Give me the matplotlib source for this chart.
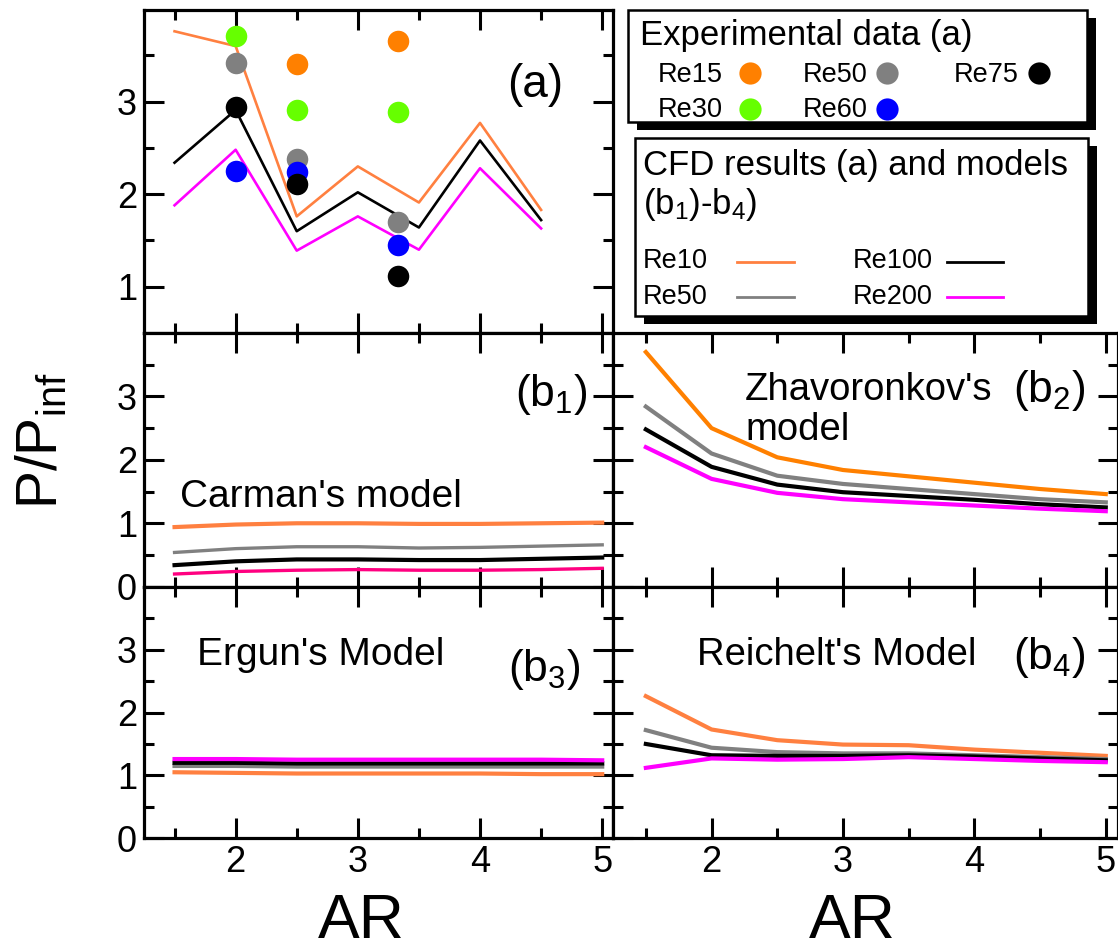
import numpy as np
import matplotlib
matplotlib.use('Agg')
import matplotlib.pyplot as plt
from matplotlib.patches import Rectangle
from matplotlib.lines import Line2D

plt.rcParams['font.family'] = ['Liberation Sans', 'DejaVu Sans']
plt.rcParams['mathtext.fontset'] = 'custom'
plt.rcParams['mathtext.rm'] = 'Liberation Sans'
plt.rcParams['mathtext.it'] = 'Liberation Sans:italic'
plt.rcParams['mathtext.bf'] = 'Liberation Sans:bold'

# ---------------- data ----------------
ar_cfd = [1.5, 2.0, 2.5, 3.0, 3.5, 4.0, 4.5]
cfd_re10 = [3.76, 3.60, 1.76, 2.30, 1.91, 2.77, 1.83]
cfd_re100 = [2.34, 2.91, 1.60, 2.02, 1.64, 2.58, 1.72]
cfd_re200 = [1.88, 2.48, 1.39, 1.76, 1.40, 2.28, 1.63]

ar_exp = [2.0, 2.5, 3.33]
exp_re15 = [np.nan, 3.41, 3.66]
exp_re30 = [3.71, 2.91, 2.89]
exp_re50 = [3.42, 2.38, 1.70]
exp_re60 = [2.25, 2.24, 1.45]
exp_re75 = [2.94, 2.11, 1.12]

ar_model = [1.5, 2.0, 2.5, 3.0, 3.5, 4.0, 4.5, 5.0]
carman_re10 = [0.94, 0.98, 1.00, 1.00, 0.99, 0.99, 1.00, 1.01]
carman_re50 = [0.54, 0.60, 0.63, 0.63, 0.61, 0.62, 0.64, 0.66]
carman_re100 = [0.34, 0.40, 0.43, 0.43, 0.42, 0.42, 0.44, 0.46]
carman_re200 = [0.20, 0.24, 0.26, 0.27, 0.26, 0.26, 0.27, 0.29]

zhav_re10 = [3.70, 2.50, 2.04, 1.84, 1.74, 1.64, 1.54, 1.46]
zhav_re50 = [2.84, 2.10, 1.75, 1.62, 1.54, 1.46, 1.38, 1.33]
zhav_re100 = [2.48, 1.89, 1.61, 1.49, 1.43, 1.37, 1.30, 1.25]
zhav_re200 = [2.20, 1.70, 1.48, 1.38, 1.33, 1.28, 1.23, 1.19]

ergun_re10 = [1.05, 1.04, 1.03, 1.03, 1.03, 1.03, 1.02, 1.02]
ergun_re50 = [1.15, 1.15, 1.14, 1.14, 1.14, 1.14, 1.14, 1.14]
ergun_re100 = [1.20, 1.20, 1.19, 1.19, 1.19, 1.19, 1.19, 1.19]
ergun_re200 = [1.26, 1.26, 1.25, 1.25, 1.25, 1.25, 1.25, 1.24]

reich_re10 = [2.26, 1.73, 1.56, 1.49, 1.48, 1.41, 1.36, 1.31]
reich_re50 = [1.72, 1.44, 1.37, 1.35, 1.35, 1.32, 1.29, 1.26]
reich_re100 = [1.50, 1.32, 1.31, 1.31, 1.32, 1.30, 1.27, 1.24]
reich_re200 = [1.12, 1.27, 1.25, 1.26, 1.29, 1.26, 1.23, 1.21]

exp_labels = ['Re15', 'Re30', 'Re50', 'Re60', 'Re75']
cfd_labels = ['Re10', 'Re50', 'Re100', 'Re200']
x_ticks = [2, 3, 4, 5]
x_minor = [1.5, 2.5, 3.5, 4.5]

# ---------------- styles ----------------
C_OR = '#FF8040'
C_OR2 = '#FF8000'
C_MAG = '#FF00FF'
C_PINK = '#FF0080'
C_GRAY = '#808080'
C_GREEN = '#66FF00'
C_BLUE = '#0000FF'
exp_colors = [C_OR2, C_GREEN, C_GRAY, C_BLUE, 'black']

W, H = 1118, 951
fig = plt.figure(figsize=(W / 100, H / 100), dpi=100)


def px_axes(x0, y0, x1, y1):
    return fig.add_axes([x0 / W, 1 - y1 / H, (x1 - x0) / W, (y1 - y0) / H])


def style(ax, ylim, yt, ytm, left_labels, bottom_labels):
    ax.set_xlim(1.25, 5.09)
    ax.set_ylim(*ylim)
    ax.set_xticks(x_ticks)
    ax.set_xticks(x_minor, minor=True)
    ax.set_yticks(yt)
    ax.set_yticks(ytm, minor=True)
    ax.tick_params(which='both', direction='in', top=True, right=True,
                   width=2.2, labelsize=26, color='black')
    ax.tick_params(which='major', length=14.4)
    ax.tick_params(which='minor', length=7.2)
    ax.tick_params(axis='x', pad=5)
    ax.tick_params(axis='y', pad=5)
    if not left_labels:
        ax.tick_params(labelleft=False)
    if not bottom_labels:
        ax.tick_params(labelbottom=False)
    for s in ax.spines.values():
        s.set_linewidth(2.3)


ax_a = px_axes(144, 10, 613.2, 333)
ax_b1 = px_axes(144, 333, 613.2, 586.7)
ax_b2 = px_axes(613, 333, 1117.6, 586.7)
ax_b3 = px_axes(144, 586.7, 613.2, 838.3)
ax_b4 = px_axes(613, 586.7, 1117.6, 838.3)

style(ax_a, (0.5, 3.99), [1, 2, 3], [1.5, 2.5, 3.5], True, False)
style(ax_b1, (0, 4), [0, 1, 2, 3], [0.5, 1.5, 2.5, 3.5], True, False)
style(ax_b2, (0, 4), [0, 1, 2, 3], [0.5, 1.5, 2.5, 3.5], False, False)
style(ax_b3, (0, 4), [0, 1, 2, 3], [0.5, 1.5, 2.5, 3.5], True, True)
style(ax_b4, (0, 4), [0, 1, 2, 3], [0.5, 1.5, 2.5, 3.5], False, True)

# panel (a)
lw_a = 1.9
ax_a.plot(ar_cfd, cfd_re10, color=C_OR, lw=lw_a)
ax_a.plot(ar_cfd, cfd_re100, color='black', lw=lw_a)
ax_a.plot(ar_cfd, cfd_re200, color=C_MAG, lw=lw_a)
for vals, col in zip([exp_re15, exp_re30, exp_re50, exp_re60, exp_re75], exp_colors):
    ax_a.plot(ar_exp, vals, 'o', color=col, ms=15.5, mec='none', zorder=5)

lw_b = 3.0
# panel b1
ax_b1.plot(ar_model, carman_re10, color=C_OR, lw=lw_b)
ax_b1.plot(ar_model, carman_re50, color=C_GRAY, lw=2.4)
ax_b1.plot(ar_model, carman_re100, color='black', lw=lw_b)
ax_b1.plot(ar_model, carman_re200, color=C_PINK, lw=2.4)
# panel b2
ax_b2.plot(ar_model, zhav_re10, color=C_OR2, lw=lw_b)
ax_b2.plot(ar_model, zhav_re50, color=C_GRAY, lw=lw_b)
ax_b2.plot(ar_model, zhav_re100, color='black', lw=lw_b)
ax_b2.plot(ar_model, zhav_re200, color=C_MAG, lw=lw_b)
# panel b3
ax_b3.plot(ar_model, ergun_re10, color=C_OR, lw=lw_b)
ax_b3.plot(ar_model, ergun_re50, color=C_GRAY, lw=lw_b)
ax_b3.plot(ar_model, ergun_re100, color='black', lw=lw_b)
ax_b3.plot(ar_model, ergun_re200, color=C_MAG, lw=lw_b)
# panel b4
ax_b4.plot(ar_model, reich_re10, color=C_OR, lw=lw_b)
ax_b4.plot(ar_model, reich_re50, color=C_GRAY, lw=lw_b)
ax_b4.plot(ar_model, reich_re100, color='black', lw=lw_b)
ax_b4.plot(ar_model, reich_re200, color=C_MAG, lw=lw_b)

# axis labels
ax_b1.set_ylabel(r'P/P$_{\mathrm{inf}}$', fontsize=41, va='baseline')
ax_b1.yaxis.set_label_coords((57 - 144) / 469.2, (586.7 - 441) / 253.7)
ax_b3.set_xlabel('AR', fontsize=45, va='baseline')
ax_b3.xaxis.set_label_coords((361 - 144) / 469.2, -(938 - 838.3) / 251.6)
ax_b4.set_xlabel('AR', fontsize=45, va='baseline')
ax_b4.xaxis.set_label_coords((852.7 - 613) / 504.6, -(938 - 838.3) / 251.6)

# ---------------- overlay in pixel units (texts and legend boxes) ----------------
ov = fig.add_axes([0, 0, 1, 1], zorder=10)
ov.set_xlim(0, W)
ov.set_ylim(H, 0)
ov.axis('off')


def ftxt(x, y, s, size, **kw):
    ov.text(x, y, s, fontsize=size, ha='left', va='baseline', **kw)


ftxt(507, 96.7, '(a)', 33)
ftxt(515, 405.7, r'(b$_{1}$)', 32)
ftxt(180, 506.7, "Carman's model", 28)
ftxt(745, 400, "Zhavoronkov's", 27.5)
ftxt(745, 440, "model", 27.5)
ftxt(1013, 402, r'(b$_{2}$)', 32)
ftxt(197, 665, "Ergun's Model", 28)
ftxt(508, 680.7, r'(b$_{3}$)', 32)
ftxt(697, 665, "Reichelt's Model", 27.5)
ftxt(1013, 669, r'(b$_{4}$)', 32)


def box(x0, y0, x1, y1, dx=9, dy=8):
    ov.add_patch(Rectangle((x0 + dx, y0 + dy), x1 - x0, y1 - y0,
                           facecolor='black', edgecolor='black', lw=0))
    ov.add_patch(Rectangle((x0, y0), x1 - x0, y1 - y0,
                           facecolor='white', edgecolor='black', lw=1.8))


box(628, 10, 1087.3, 121.7)
box(635, 138.3, 1088, 316.3)

ftxt(640, 45, 'Experimental data (a)', 25)
exp_text_pos = [(658, 81.7), (658, 117.3), (802.7, 81.7), (802.7, 117.3), (954, 81.7)]
exp_dot_pos = [(750, 73), (750, 109), (887.3, 73), (887.3, 109), (1039, 73)]
for lab, col, (tx, ty), (dx, dy) in zip(exp_labels, exp_colors, exp_text_pos, exp_dot_pos):
    ftxt(tx, ty, lab, 19.5)
    ov.add_line(Line2D([dx], [dy], marker='o', ms=16, color=col, mec='none', ls='none'))

ftxt(643, 175, 'CFD results (a) and models', 25)
ftxt(643, 213.6, r'(b$_{1}$)-b$_{4}$)', 25)
cfd_colors = [C_OR, C_GRAY, 'black', C_MAG]
cfd_text_pos = [(643, 268.3), (643, 304), (852.7, 268.3), (852.7, 304)]
cfd_line_pos = [(736.7, 794, 261.7), (736.7, 794, 297.3), (946.7, 1003.3, 261.7), (946.7, 1003.3, 297.3)]
for lab, col, (tx, ty), (x0, x1, ly) in zip(cfd_labels, cfd_colors, cfd_text_pos, cfd_line_pos):
    ftxt(tx, ty, lab, 19.5)
    ov.add_line(Line2D([x0, x1], [ly, ly], color=col, lw=2.0))

fig.savefig('out.png', dpi=100)
